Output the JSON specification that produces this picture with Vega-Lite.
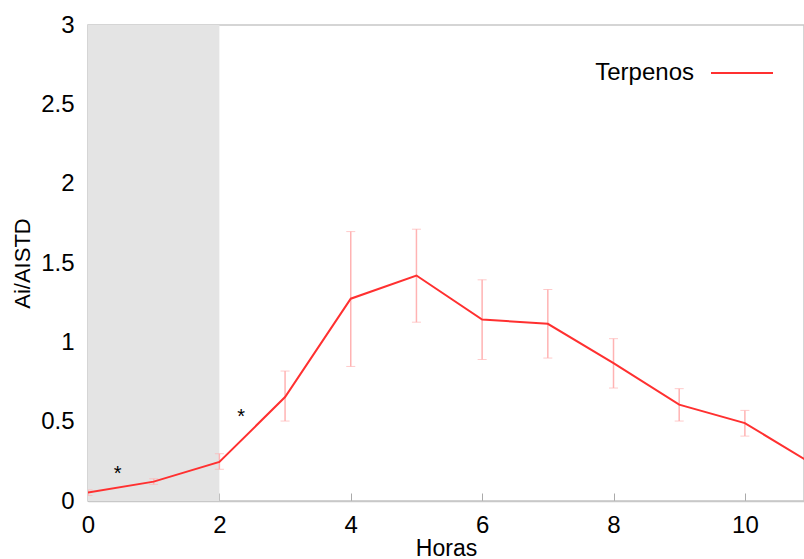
{
  "$schema": "https://vega.github.io/schema/vega-lite/v6.json",
  "autosize": "none",
  "width": 716,
  "height": 476,
  "padding": {"left": 88, "top": 25, "right": 0, "bottom": 58},
  "background": "white",
  "config": {
    "font": "Liberation Sans",
    "view": {"stroke": "#c8c8c8", "strokeWidth": 1.5},
    "axis": {"labelFont": "Liberation Sans", "titleFont": "Liberation Sans", "labelColor": "#000", "titleColor": "#000", "titleFontWeight": "normal", "grid": false}
  },
  "datasets": {
    "series": [
      {"h": 0, "v": 0.053, "lo": 0.035, "hi": 0.07},
      {"h": 1, "v": 0.122, "lo": 0.105, "hi": 0.14},
      {"h": 2, "v": 0.246, "lo": 0.2, "hi": 0.298},
      {"h": 3, "v": 0.655, "lo": 0.504, "hi": 0.819},
      {"h": 4, "v": 1.275, "lo": 0.848, "hi": 1.698},
      {"h": 5, "v": 1.421, "lo": 1.127, "hi": 1.713},
      {"h": 6, "v": 1.144, "lo": 0.892, "hi": 1.394},
      {"h": 7, "v": 1.117, "lo": 0.901, "hi": 1.333},
      {"h": 8, "v": 0.869, "lo": 0.712, "hi": 1.023},
      {"h": 9, "v": 0.607, "lo": 0.504, "hi": 0.708},
      {"h": 10, "v": 0.491, "lo": 0.409, "hi": 0.571},
      {"h": 11, "v": 0.24, "lo": 0.18, "hi": 0.3}
    ],
    "band": [{"start": 0, "end": 2}],
    "marks": [
      {"h": 0.45, "v": 0.17, "label": "*"},
      {"h": 2.33, "v": 0.53, "label": "*"}
    ]
  },
  "layer": [
    {
      "data": {"name": "band"},
      "mark": {"type": "rect", "color": "#e4e4e4"},
      "encoding": {
        "x": {"field": "start", "type": "quantitative", "title": "Horas", "scale": {"domain": [0, 10.9], "nice": false}},
        "x2": {"field": "end"}
      }
    },
    {
      "data": {"name": "series"},
      "mark": {"type": "errorbar", "clip": true, "ticks": {"size": 9, "color": "#ffb3b3", "strokeWidth": 1.5}, "rule": {"color": "#ffb3b3", "strokeWidth": 1.5}},
      "encoding": {
        "x": {"field": "h", "type": "quantitative", "title": "Horas"},
        "y": {"field": "lo", "type": "quantitative", "title": "Ai/AISTD"},
        "y2": {"field": "hi"}
      }
    },
    {
      "data": {"name": "series"},
      "mark": {"type": "line", "clip": true, "strokeWidth": 2},
      "encoding": {
        "x": {"field": "h", "type": "quantitative", "title": "Horas",
          "axis": {"values": [0, 2, 4, 6, 8, 10], "format": "~g", "labelFontSize": 24, "titleFontSize": 23, "tickSize": -8, "tickColor": "#aaa", "domainColor": "#c8c8c8", "domainWidth": 1.5, "labelPadding": 20, "titlePadding": 0, "labelFlush": false}},
        "y": {"field": "v", "type": "quantitative", "title": "Ai/AISTD",
          "scale": {"domain": [0, 3], "nice": false},
          "axis": {"values": [0, 0.5, 1, 1.5, 2, 2.5, 3], "format": "~g", "labelFontSize": 24, "titleFontSize": 22, "ticks": false, "domain": false, "labelPadding": 14, "titlePadding": 6, "labelFlush": false}},
        "color": {"datum": "Terpenos", "type": "nominal",
          "scale": {"range": ["#ff3030"]},
          "legend": {"title": null, "orient": "none", "legendX": 622, "legendY": 16, "symbolType": "stroke", "symbolSize": 3844, "symbolStrokeWidth": 2, "labelFontSize": 24, "labelAlign": "right", "labelOffset": -80, "labelColor": "#000"}}
      }
    },
    {
      "data": {"name": "marks"},
      "mark": {"type": "text", "fontSize": 20, "color": "#000"},
      "encoding": {
        "x": {"field": "h", "type": "quantitative"},
        "y": {"field": "v", "type": "quantitative"},
        "text": {"field": "label"}
      }
    }
  ]
}
